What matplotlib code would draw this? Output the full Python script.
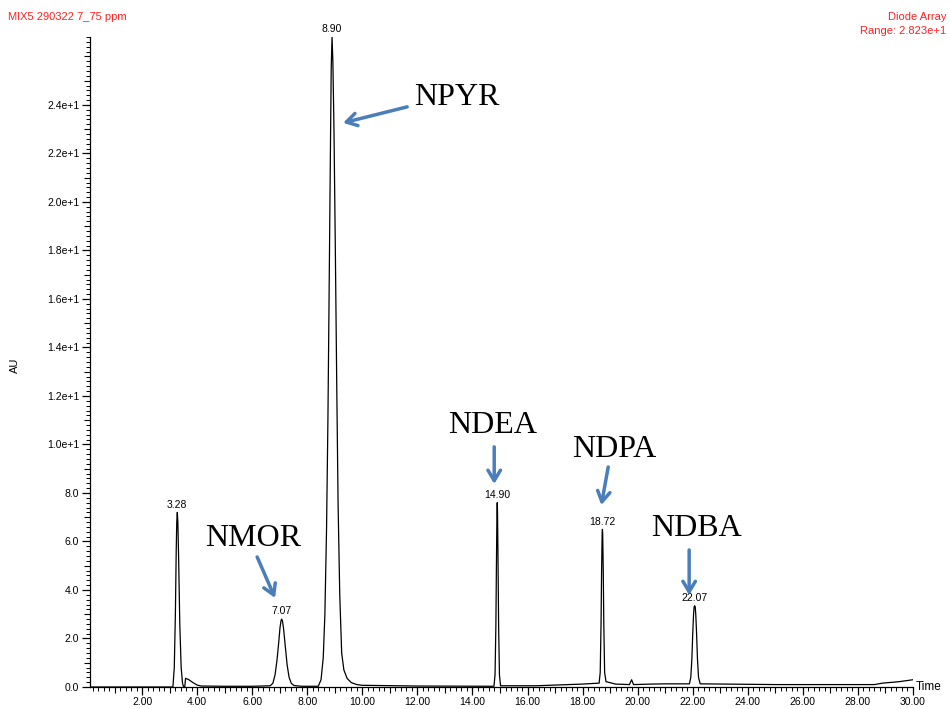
import matplotlib
matplotlib.use("Agg")
import matplotlib.pyplot as plt
from matplotlib.ticker import FixedLocator, MultipleLocator, NullFormatter

# ---------------- data ----------------
time_min = [0.10, 3.12, 3.17, 3.21, 3.24, 3.26, 3.28, 3.30, 3.33, 3.37, 3.42, 3.47, 3.51, 3.55,
            3.58, 3.70, 3.85, 4.00, 4.15, 5.00, 6.00,
            6.65, 6.75, 6.83, 6.90, 6.96, 7.01, 7.05, 7.07, 7.10, 7.14, 7.20, 7.27, 7.34, 7.42, 7.52,
            7.80, 8.40, 8.50, 8.58, 8.64, 8.70, 8.75, 8.80, 8.84, 8.87, 8.90, 8.93, 8.97, 9.02,
            9.07, 9.12, 9.18, 9.25, 9.33, 9.45, 9.60, 9.80, 10.00, 12.00,
            14.78, 14.82, 14.85, 14.87, 14.89, 14.90, 14.91, 14.93, 14.95, 14.98, 15.02,
            16.30, 17.00, 18.00,
            18.60, 18.64, 18.67, 18.69, 18.71, 18.72, 18.73, 18.75, 18.77, 18.80, 18.85,
            19.20, 19.70, 19.78, 19.85, 20.50, 21.00,
            21.88, 21.93, 21.97, 22.00, 22.03, 22.05, 22.07, 22.09, 22.11, 22.14, 22.17, 22.21, 22.27,
            25.00, 28.60, 28.90, 29.50, 30.00]
au = [0.00, 0.00, 0.80, 3.00, 5.60, 6.80, 7.20, 6.80, 5.20, 2.60, 0.80, 0.15, 0.00, 0.00,
      0.36, 0.30, 0.18, 0.08, 0.04, 0.03, 0.03,
      0.05, 0.15, 0.50, 1.10, 1.80, 2.45, 2.75, 2.80, 2.72, 2.40, 1.70, 0.90, 0.40, 0.15, 0.06,
      0.03, 0.03, 0.30, 1.20, 3.00, 6.50, 11.00, 17.00, 22.00, 25.50, 26.80, 25.80, 23.00, 18.00,
      12.50, 7.50, 3.80, 1.40, 0.70, 0.35, 0.18, 0.10, 0.07, 0.04,
      0.03, 0.50, 2.50, 5.00, 7.20, 7.60, 7.20, 5.00, 2.50, 0.50, 0.05,
      0.05, 0.08, 0.12,
      0.16, 0.60, 2.60, 4.80, 6.30, 6.50, 6.30, 4.80, 2.60, 0.60, 0.22,
      0.12, 0.10, 0.30, 0.10, 0.12, 0.13,
      0.13, 0.40, 1.20, 2.20, 3.00, 3.30, 3.35, 3.30, 3.00, 2.20, 1.20, 0.40, 0.13,
      0.10, 0.10, 0.16, 0.22, 0.30]

peak_times = [3.28, 7.07, 8.90, 14.90, 18.72, 22.07]
peak_heights = [7.20, 2.80, 26.80, 7.60, 6.50, 3.35]
peak_labels = ["3.28", "7.07", "8.90", "14.90", "18.72", "22.07"]

compounds = ["NPYR", "NMOR", "NDEA", "NDPA", "NDBA"]

x_ticks = [2, 4, 6, 8, 10, 12, 14, 16, 18, 20, 22, 24, 26, 28, 30]
x_tick_labels = ["2.00", "4.00", "6.00", "8.00", "10.00", "12.00", "14.00", "16.00",
                 "18.00", "20.00", "22.00", "24.00", "26.00", "28.00", "30.00"]
y_ticks = [0, 2, 4, 6, 8, 10, 12, 14, 16, 18, 20, 22, 24]
y_tick_labels = ["0.0", "2.0", "4.0", "6.0", "8.0", "1.0e+1", "1.2e+1", "1.4e+1",
                 "1.6e+1", "1.8e+1", "2.0e+1", "2.2e+1", "2.4e+1"]

# ---------------- figure ----------------
plt.rcParams['font.family'] = ['Liberation Sans', 'DejaVu Sans']
fig = plt.figure(figsize=(9.5, 7.09), dpi=100)
ax = fig.add_axes([89.75 / 950, 22 / 709, (913 - 89.75) / 950, 650 / 709])

ax.plot(time_min, au, color='black', lw=0.9)
ax.set_xlim(0.1, 30.0)
ax.set_ylim(0, 26.8)

for s in ['top', 'right']:
    ax.spines[s].set_visible(False)
for s in ['left', 'bottom']:
    ax.spines[s].set_linewidth(0.9)

ax.xaxis.set_major_locator(FixedLocator(x_ticks))
ax.set_xticklabels(x_tick_labels, fontsize=7.5)
ax.xaxis.set_minor_locator(MultipleLocator(0.2))
ax.yaxis.set_major_locator(FixedLocator(y_ticks))
ax.set_yticklabels(y_tick_labels, fontsize=7.5)
ax.yaxis.set_minor_locator(MultipleLocator(0.2))
ax.tick_params(axis='both', which='major', length=6, width=0.9, pad=1.5)
ax.tick_params(axis='both', which='minor', length=3, width=0.7)

# medium ticks at the odd units
sec_x = ax.secondary_xaxis('bottom')
sec_x.xaxis.set_major_locator(FixedLocator(list(range(1, 30, 2))))
sec_x.xaxis.set_major_formatter(NullFormatter())
sec_x.tick_params(length=4.5, width=0.8)
sec_x.spines['bottom'].set_visible(False)
sec_y = ax.secondary_yaxis('left')
sec_y.yaxis.set_major_locator(FixedLocator(list(range(1, 27, 2)) + [26]))
sec_y.yaxis.set_major_formatter(NullFormatter())
sec_y.tick_params(length=4.5, width=0.8)
sec_y.spines['left'].set_visible(False)

fig.text(15 / 950, 1 - 365 / 709, "AU", fontsize=8, rotation=90, ha='center', va='center')
ax.text(1.003, 0.0, "Time", transform=ax.transAxes, fontsize=8.5, va='center', ha='left')

# peak labels
for t, h, lab in zip(peak_times, peak_heights, peak_labels):
    ax.annotate(lab, (t, h), xytext=(0, 2), textcoords='offset points',
                ha='center', va='bottom', fontsize=7.5, annotation_clip=False)

# compound annotations
blue = '#4A7EBB'
text_pos = [(13.45, 24.3), (6.03, 6.14), (14.75, 10.8), (19.15, 9.81), (22.13, 6.52)]
arrow_tail = [(11.63, 23.92), (6.18, 5.36), (14.79, 9.9), (18.93, 9.07), (21.87, 5.65)]
arrow_head = [(9.30, 23.26), (6.83, 3.67), (14.79, 8.37), (18.68, 7.5), (21.87, 3.79)]
for name, tp, tail, head in zip(compounds, text_pos, arrow_tail, arrow_head):
    ax.text(tp[0], tp[1], name, ha='center', va='center', fontsize=23,
            family=['Liberation Serif', 'DejaVu Serif'])
    ax.annotate('', xy=head, xytext=tail,
                arrowprops=dict(arrowstyle='->,head_length=0.75,head_width=0.45',
                                color=blue, lw=2.5, shrinkA=0, shrinkB=0))

fig.text(8 / 950, 1 - 17 / 709, "MIX5 290322 7_75 ppm", color='#FF2020', fontsize=8,
         ha='left', va='center')
fig.text(946 / 950, 1 - 17 / 709, "Diode Array", color='#FF2020', fontsize=8,
         ha='right', va='center')
fig.text(946 / 950, 1 - 31 / 709, "Range: 2.823e+1", color='#FF2020', fontsize=8,
         ha='right', va='center')

fig.savefig("out.png", dpi=100)
